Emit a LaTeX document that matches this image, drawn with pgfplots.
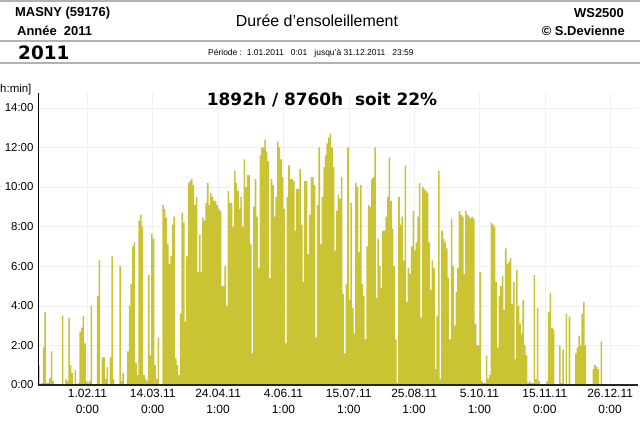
\documentclass[border=0pt]{standalone}
\usepackage{pgfplots}
\pgfplotsset{compat=1.18}
\usepackage{fontspec}
\setmainfont{Liberation Sans}
\newfontfamily\dejavu{DejaVu Sans}
\definecolor{sun}{RGB}{202,195,52}
\begin{document}
\begin{tikzpicture}[x=1bp,y=1bp]
\path[use as bounding box] (0,0) rectangle (640,426);
% header
\draw[gray!60, line width=1.4bp] (0,425) -- (640,425);
\draw[gray!60, line width=1.4bp] (0,385) -- (640,385);
\draw[gray!60, line width=1.4bp] (0,363) -- (640,363);
\node[anchor=west, inner sep=0pt, font=\bfseries\fontsize{13}{15}\selectfont] at (15,413) {MASNY (59176)};
\node[anchor=west, inner sep=0pt, font=\bfseries\fontsize{13}{15}\selectfont] at (17,395) {Année\ \ 2011};
\node[anchor=center, inner sep=0pt, font=\fontsize{16}{18}\selectfont] at (317,405) {Durée d'ensoleillement};
\node[anchor=east, inner sep=0pt, font=\bfseries\fontsize{13}{15}\selectfont] at (624,413) {WS2500};
\node[anchor=east, inner sep=0pt, font=\bfseries\fontsize{13}{15}\selectfont] at (625,395) {© S.Devienne};
\node[anchor=west, inner sep=0pt, font=\dejavu\bfseries\fontsize{18.5}{20}\selectfont] at (18,373) {2011};
\node[anchor=west, inner sep=0pt, font=\fontsize{8.5}{9}\selectfont] at (208,373) {Période :\ \ 1.01.2011\ \ \ 0:01\ \ \ jusqu'à\ 31.12.2011\ \ \ 23:59};
\node[anchor=west, inner sep=0pt, font=\fontsize{11.5}{13}\selectfont] at (0,336) {h:min]};
\begin{axis}[
  at={(38bp,41bp)}, anchor=south west,
  scale only axis, width=600bp, height=292bp,
  xmin=0, xmax=376.5, ymin=0, ymax=14.75,
  axis x line*=bottom, axis y line*=left,
  x axis line style={draw=none},
  y axis line style={draw=none},
  major tick length=0pt,
  grid=major, grid style={gray!12, line width=0.5bp},
  ytick={0,2,4,6,8,10,12,14},
  yticklabels={0:00,2:00,4:00,6:00,8:00,10:00,12:00,14:00},
  xtick={31,72,113,154,195,236,277,318,359},
  xticklabels={{1.02.11\\0:00},{14.03.11\\0:00},{24.04.11\\1:00},{4.06.11\\1:00},{15.07.11\\1:00},{25.08.11\\1:00},{5.10.11\\1:00},{15.11.11\\0:00},{26.12.11\\0:00}},
  xticklabel style={align=center, font=\fontsize{12}{16}\selectfont, yshift=-1bp},
  yticklabel style={font=\fontsize{11.5}{13}\selectfont, xshift=-1bp},
  clip=false,
]
\addplot[const plot, fill=sun, draw=none] coordinates {
(0,1.0)(1,0)(2,0.1)(3,1.9)(4,3.7)(5,0.1)(6,0.1)(7,0.35)(8,1.7)(9,0.2)
(10,0)(11,0)(12,0)(13,0)(14,0)(15,3.5)(16,0)(17,0.3)(18,0.2)(19,3.4)
(20,1.0)(21,0.6)(22,0)(23,0.75)(24,0)(25,0.1)(26,2.7)(27,2.9)(28,3.5)(29,2.1)
(30,0.2)(31,0.1)(32,0.2)(33,4.0)(34,0)(35,0)(36,0)(37,4.5)(38,6.3)(39,0)
(40,1.4)(41,1.4)(42,0.3)(43,0.9)(44,0)(45,1.4)(46,6.5)(47,0.3)(48,0)(49,0)
(50,0)(51,6.0)(52,0.2)(53,0.6)(54,0)(55,0)(56,1.7)(57,4.0)(58,5.1)(59,7.0)
(60,7.2)(61,1.1)(62,0.5)(63,8.3)(64,8.6)(65,8.0)(66,0.5)(67,0.3)(68,0.2)(69,5.55)
(70,1.5)(71,7.65)(72,7.4)(73,1.0)(74,0.3)(75,2.4)(76,0)(77,0)(78,9.1)(79,8.9)
(80,8.45)(81,7.1)(82,6.1)(83,6.5)(84,8.1)(85,8.5)(86,1.35)(87,1.0)(88,0.5)(89,3.6)
(90,8.7)(91,8.2)(92,3.2)(93,6.5)(94,10.2)(95,10.3)(96,10.4)(97,10.1)(98,9.1)(99,9.5)
(100,5.7)(101,7.6)(102,5.7)(103,8.45)(104,8.3)(105,9.2)(106,10.2)(107,9.1)(108,9.7)(109,9.5)
(110,9.3)(111,9.3)(112,9.1)(113,8.9)(114,8.8)(115,5.0)(116,5.0)(117,6.0)(118,4.0)(119,9.8)
(120,9.2)(121,9.2)(122,8.0)(123,10.8)(124,10.2)(125,9.8)(126,8.9)(127,9.5)(128,8.0)(129,11.4)
(130,10.0)(131,10.6)(132,10.6)(133,7.1)(134,1.6)(135,9.0)(136,10.4)(137,8.5)(138,5.9)(139,11.6)
(140,12.0)(141,12.0)(142,12.4)(143,11.8)(144,11.3)(145,5.4)(146,10.4)(147,10.1)(148,8.5)(149,9.5)
(150,12.3)(151,12.0)(152,11.4)(153,10.5)(154,8.9)(155,2.1)(156,9.5)(157,11.1)(158,10.4)(159,10.4)
(160,10.3)(161,7.8)(162,9.9)(163,9.9)(164,10.9)(165,8.1)(166,5.2)(167,10.3)(168,10.3)(169,6.6)
(170,8.6)(171,10.5)(172,10.5)(173,10.1)(174,2.4)(175,9.1)(176,12.0)(177,7.1)(178,9.5)(179,11.0)
(180,11.6)(181,12.2)(182,12.5)(183,12.7)(184,12.0)(185,11.0)(186,6.8)(187,8.8)(188,9.6)(189,9.4)
(190,10.5)(191,4.6)(192,1.6)(193,5.1)(194,12.0)(195,4.3)(196,9.2)(197,3.9)(198,2.6)(199,10.2)
(200,10.0)(201,6.7)(202,10.1)(203,5.1)(204,4.5)(205,2.3)(206,7.0)(207,9.1)(208,9.0)(209,10.4)
(210,10.5)(211,12.0)(212,4.4)(213,7.4)(214,6.0)(215,4.9)(216,7.8)(217,7.8)(218,8.5)(219,9.5)
(220,11.5)(221,9.3)(222,7.9)(223,6.0)(224,2.3)(225,0.1)(226,9.5)(227,8.1)(228,8.5)(229,6.3)
(230,11.1)(231,4.2)(232,5.9)(233,5.6)(234,7.0)(235,8.8)(236,6.8)(237,7.2)(238,8.5)(239,10.2)
(240,3.4)(241,10.0)(242,9.9)(243,9.8)(244,9.7)(245,7.2)(246,4.8)(247,6.3)(248,5.9)(249,0.8)
(250,3.5)(251,10.8)(252,0.3)(253,7.8)(254,7.4)(255,7.2)(256,6.9)(257,5.4)(258,2.3)(259,8.4)
(260,6.0)(261,3.0)(262,4.7)(263,5.9)(264,8.8)(265,8.6)(266,8.5)(267,5.6)(268,8.8)(269,8.6)
(270,8.5)(271,8.4)(272,8.5)(273,8.4)(274,3.1)(275,2.0)(276,2.0)(277,5.7)(278,0.2)(279,0.1)
(280,0.1)(281,1.5)(282,0.3)(283,0.5)(284,8.2)(285,8.1)(286,8.0)(287,5.2)(288,1.9)(289,4.5)
(290,5.0)(291,5.5)(292,3.8)(293,6.9)(294,6.1)(295,6.2)(296,6.4)(297,4.1)(298,5.2)(299,1.3)
(300,5.8)(301,4.0)(302,3.1)(303,2.6)(304,4.3)(305,2.0)(306,1.5)(307,0.1)(308,0.2)(309,0.1)
(310,0.1)(311,5.55)(312,0.3)(313,3.9)(314,0.2)(315,0)(316,0)(317,0)(318,0)(319,0.2)
(320,3.7)(321,4.66)(322,2.9)(323,2.8)(324,0)(325,0)(326,0)(327,2.0)(328,0.1)(329,1.8)
(330,0)(331,3.6)(332,0)(333,3.45)(334,0)(335,0)(336,0)(337,1.6)(338,1.9)(339,2.5)
(340,2.0)(341,3.6)(342,4.2)(343,2.0)(344,0)(345,0)(346,0)(347,0)(348,0.8)(349,1.0)
(350,0.9)(351,0.8)(352,0)(353,2.2)(354,0)(355,0)(356,0)(357,0)(358,0)(359,0)
(360,0)(361,0)(362,0)(363,0)(364,0)(365,0)
} \closedcycle;
\draw[black, line width=0.8bp] (rel axis cs:0,0) -- (rel axis cs:0,1);
\draw[black!85, line width=1.4bp] (rel axis cs:0,0) -- (rel axis cs:1,0);
\end{axis}
\node[anchor=center, inner sep=0pt, font=\dejavu\bfseries\fontsize{17}{19}\selectfont] at (322,326) {1892h / 8760h\ \ soit 22\%};
\end{tikzpicture}
\end{document}
